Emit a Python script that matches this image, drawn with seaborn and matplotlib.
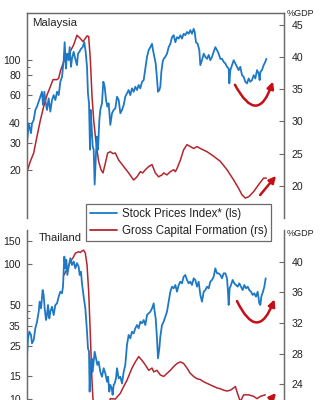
import matplotlib
matplotlib.use("Agg")
import matplotlib.pyplot as plt
import matplotlib.ticker as mticker
import seaborn as sns
import pandas as pd

# ---------------- data ----------------
my_stock_t = [1988.00, 1988.26, 1988.62, 1988.78, 1989.04, 1989.30, 1989.56, 1989.82, 1990.08, 1990.33,
              1990.49, 1990.70, 1990.85, 1991.11, 1991.37, 1991.63, 1991.89, 1992.15, 1992.41, 1992.67,
              1992.93, 1993.19, 1993.45, 1993.71, 1993.86, 1994.07, 1994.23, 1994.49, 1994.64, 1994.85,
              1995.00, 1995.26, 1995.52, 1995.78, 1995.94, 1996.15, 1996.40, 1996.66, 1996.92, 1997.13,
              1997.34, 1997.49, 1997.65, 1997.81, 1997.91, 1998.06, 1998.22, 1998.38, 1998.53, 1998.74,
              1998.89, 1999.05, 1999.26, 1999.41, 1999.67, 1999.88, 2000.09, 2000.30, 2000.50, 2000.71,
              2000.97, 2001.23, 2001.49, 2001.75, 2002.01, 2002.27, 2002.53, 2002.79, 2003.05, 2003.30,
              2003.56, 2003.82, 2004.08, 2004.34, 2004.60, 2004.86, 2005.12, 2005.38, 2005.64, 2005.90,
              2006.16, 2006.42, 2006.68, 2006.94, 2007.20, 2007.46, 2007.61, 2007.82, 2008.03, 2008.23,
              2008.39, 2008.60, 2008.75, 2008.91, 2009.12, 2009.27, 2009.53, 2009.79, 2010.05, 2010.31,
              2010.57, 2010.83, 2011.09, 2011.35, 2011.61, 2011.87, 2012.12, 2012.38, 2012.64, 2012.90,
              2013.16, 2013.42, 2013.68, 2013.94, 2014.10, 2014.30, 2014.56, 2014.82, 2014.98, 2015.24,
              2015.50, 2015.76, 2016.02, 2016.28, 2016.53, 2016.79, 2017.05, 2017.31, 2017.57, 2017.83,
              2018.09, 2018.35, 2018.61, 2018.87, 2019.13, 2019.39, 2019.49, 2019.65, 2019.91, 2020.17,
              2020.43, 2020.68, 2020.94, 2021.20, 2021.46, 2021.72, 2021.98, 2022.24, 2022.50, 2022.76,
              2023.02, 2023.28, 2023.54, 2023.80, 2024.06, 2024.21, 2024.32, 2024.57, 2024.83, 2025.09,
              2025.25]
my_stock_v = [29.8, 39.8, 34.5, 39.8, 41.8, 48.4, 50.8, 54.6, 58.7, 63.1,
              52.0, 63.1, 55.9, 48.4, 57.3, 47.2, 55.9, 60.1, 55.9, 63.1,
              60.1, 73.0, 78.5, 100, 130, 88.6, 110, 100, 121, 90.8,
              102, 113, 102, 93, 110, 113, 118, 121, 130, 113,
              90.8, 61.6, 53.3, 27.1, 48.4, 38.0, 28.4, 27.1, 16.3, 25.8,
              32.8, 27.1, 41.8, 48.4, 53.3, 73.0, 67.9, 55.9, 50.8, 53.3,
              38.9, 46.1, 48.4, 49.5, 58.7, 55.9, 46.1, 48.4, 52.0, 58.7,
              61.6, 64.7, 60.1, 66.3, 63.1, 67.9, 64.7, 69.6, 66.3, 73.0,
              74.8, 88.6, 105, 116, 121, 127, 116, 105, 95.3, 76.6,
              63.1, 64.7, 67.9, 84.4, 97.6, 102, 105, 110, 121, 127,
              140, 144, 130, 140, 137, 144, 137, 147, 144, 151,
              147, 155, 147, 158, 151, 130, 127, 116, 93, 100,
              110, 105, 102, 108, 100, 105, 113, 121, 116, 110,
              102, 102, 97.6, 95.3, 90.8, 88.6, 71.3, 86.5, 93, 100,
              95.3, 90.8, 86.5, 90.8, 80.4, 78.5, 73.0, 71.3, 76.6, 73.0,
              74.8, 80.4, 76.6, 86.5, 82.4, 74.8, 84.4, 86.5, 93, 97.6,
              102]

my_gcf_t = [1988.00, 1988.52, 1989.04, 1989.56, 1990.08, 1990.59, 1991.11, 1991.63, 1992.05, 1992.67,
            1992.93, 1993.19, 1993.71, 1994.23, 1994.74, 1995.26, 1995.78, 1996.30, 1996.72, 1997.08,
            1997.34, 1997.60, 1997.86, 1998.12, 1998.38, 1998.64, 1998.89, 1999.15, 1999.52, 1999.83,
            2000.19, 2000.56, 2000.97, 2001.39, 2001.75, 2002.27, 2003.05, 2003.82, 2004.60, 2005.12,
            2005.64, 2006.00, 2006.42, 2006.94, 2007.46, 2007.97, 2008.49, 2009.01, 2009.27, 2009.79,
            2010.31, 2010.83, 2011.09, 2011.35, 2011.87, 2012.38, 2012.90, 2013.42, 2013.94, 2014.46,
            2014.98, 2016.02, 2017.05, 2018.09, 2019.13, 2020.17, 2020.94, 2021.46, 2021.98, 2022.50,
            2023.28, 2024.06, 2024.83, 2025.25]
my_gcf_v = [22.2, 23.8, 25.1, 27.7, 30.2, 32.3, 34.1, 35.4, 36.5, 36.5,
            36.7, 37.8, 39.3, 40.1, 40.9, 41.9, 43.4, 42.9, 42.4, 42.9,
            43.3, 43.2, 39.6, 33.9, 30.2, 27.7, 25.6, 23.8, 22.5, 22.0,
            23.5, 25.1, 25.3, 25.0, 25.1, 24.0, 23.0, 22.0, 20.9, 21.4,
            22.2, 22.0, 22.5, 23.0, 23.3, 22.0, 21.4, 21.7, 22.0, 21.7,
            22.2, 22.5, 22.2, 22.7, 24.0, 25.6, 26.4, 26.1, 25.8, 26.1,
            25.8, 25.3, 24.6, 23.8, 22.5, 20.9, 19.6, 18.6, 18.1, 18.3,
            19.1, 20.2, 21.2, 21.2]

th_stock_t = [1988.00, 1988.16, 1988.36, 1988.62, 1988.78, 1989.04, 1989.30, 1989.56, 1989.82, 1989.97,
              1990.18, 1990.44, 1990.59, 1990.75, 1990.96, 1991.11, 1991.27, 1991.48, 1991.63, 1991.89,
              1992.15, 1992.41, 1992.67, 1992.93, 1993.19, 1993.45, 1993.60, 1993.71, 1993.81, 1993.97,
              1994.12, 1994.28, 1994.49, 1994.74, 1995.00, 1995.26, 1995.52, 1995.78, 1996.04, 1996.20,
              1996.40, 1996.56, 1996.82, 1997.08, 1997.34, 1997.49, 1997.65, 1997.75, 1997.86, 1998.06,
              1998.22, 1998.38, 1998.53, 1998.74, 1998.95, 1999.15, 1999.41, 1999.67, 1999.93, 2000.19,
              2000.45, 2000.61, 2000.81, 2000.97, 2001.18, 2001.33, 2001.49, 2001.64, 2001.85, 2002.01,
              2002.27, 2002.53, 2002.79, 2003.05, 2003.30, 2003.56, 2003.82, 2004.08, 2004.34, 2004.60,
              2004.86, 2005.12, 2005.38, 2005.64, 2005.90, 2006.16, 2006.42, 2006.68, 2006.94, 2007.20,
              2007.46, 2007.72, 2007.87, 2008.03, 2008.23, 2008.39, 2008.60, 2008.75, 2009.01, 2009.27,
              2009.53, 2009.79, 2010.05, 2010.31, 2010.57, 2010.83, 2011.09, 2011.35, 2011.61, 2011.87,
              2012.12, 2012.38, 2012.64, 2012.90, 2013.16, 2013.42, 2013.68, 2013.94, 2014.20, 2014.46,
              2014.72, 2014.98, 2015.24, 2015.50, 2015.76, 2016.02, 2016.28, 2016.53, 2016.79, 2017.05,
              2017.31, 2017.57, 2017.83, 2018.09, 2018.35, 2018.61, 2018.87, 2019.13, 2019.28, 2019.39,
              2019.54, 2019.75, 2020.01, 2020.27, 2020.53, 2020.79, 2021.05, 2021.31, 2021.57, 2021.83,
              2022.09, 2022.35, 2022.60, 2022.86, 2023.12, 2023.38, 2023.64, 2023.90, 2024.16, 2024.32,
              2024.47, 2024.73, 2024.94, 2025.15]
th_stock_v = [21.3, 28.3, 31.7, 30.0, 26.0, 27.5, 33.6, 37.6, 44.6, 52.9,
              47.2, 64.5, 59.3, 47.2, 38.7, 42.1, 50.0, 39.8, 44.6, 48.6,
              42.1, 50.0, 51.4, 57.6, 62.7, 61.0, 68.3, 88.2, 114, 93.4,
              108, 83.4, 96.1, 111, 98.9, 105, 93.4, 102, 96.1, 83.4,
              88.2, 72.3, 57.6, 47.2, 31.7, 23.9, 22.5, 11.4, 18.0, 20.1,
              16.0, 19.0, 22.5, 20.1, 18.0, 19.0, 16.0, 14.7, 17.0, 15.6,
              13.5, 14.7, 11.4, 12.8, 12.1, 10.8, 12.8, 13.1, 14.3, 17.0,
              14.3, 14.7, 13.1, 16.0, 18.0, 25.3, 30.0, 28.3, 31.7, 30.8,
              33.6, 35.5, 33.6, 37.6, 36.6, 38.7, 35.5, 42.1, 43.4, 44.6,
              47.2, 51.4, 44.6, 39.8, 28.3, 20.1, 23.9, 29.1, 35.5, 37.6,
              41.0, 44.6, 52.9, 62.7, 68.3, 66.4, 70.3, 62.7, 70.3, 74.4,
              72.3, 81.0, 83.4, 76.6, 72.3, 74.4, 70.3, 78.8, 76.6, 68.3,
              74.4, 59.3, 52.9, 62.7, 64.5, 68.3, 66.4, 74.4, 76.6, 81.0,
              93.4, 85.8, 85.8, 83.4, 78.8, 85.8, 85.8, 78.8, 62.7, 50.0,
              66.4, 70.3, 76.6, 72.3, 70.3, 68.3, 72.3, 68.3, 64.5, 70.3,
              66.4, 68.3, 64.5, 62.7, 59.3, 61.0, 57.6, 62.7, 51.4, 50.0,
              57.6, 62.7, 68.3, 78.8]

th_gcf_t = [1993.81, 1994.23, 1994.74, 1995.26, 1995.52, 1996.04, 1996.30, 1996.56, 1996.82, 1997.08,
            1997.34, 1997.60, 1997.86, 1998.12, 1998.38, 1999.41, 2000.45, 2000.97, 2001.75, 2002.53,
            2003.05, 2003.56, 2004.34, 2004.86, 2005.38, 2005.90, 2006.42, 2006.94, 2007.46, 2007.72,
            2008.23, 2008.75, 2009.27, 2009.79, 2010.31, 2010.83, 2011.35, 2011.87, 2012.38, 2012.90,
            2013.42, 2013.94, 2014.46, 2014.98, 2015.50, 2016.02, 2016.53, 2017.05, 2017.57, 2018.09,
            2018.61, 2019.13, 2019.65, 2020.17, 2020.43, 2020.68, 2021.20, 2021.72, 2022.50, 2023.28,
            2023.80, 2024.32, 2025.09]
th_gcf_v = [38.3, 39.1, 40.0, 40.65, 41.1, 41.3, 41.2, 41.4, 41.5, 41.1,
            39.6, 36.1, 30.4, 24.3, 20.4, 20.0, 20.5, 22.1, 22.05, 22.8,
            23.7, 24.5, 26.1, 26.9, 27.6, 27.1, 26.5, 25.8, 26.1, 25.6,
            25.8, 25.2, 25.0, 25.4, 25.8, 26.3, 26.7, 26.9, 26.7, 26.1,
            25.4, 25.0, 24.7, 24.6, 24.3, 24.1, 23.9, 23.7, 23.5, 23.4,
            23.2, 23.1, 23.2, 23.5, 23.7, 23.0, 21.7, 22.6, 22.6, 22.4,
            22.1, 22.4, 22.6]

my_left_ticks = [20, 30, 40, 60, 80, 100]
my_left_minor = [50, 70, 90]
my_right_ticks = [20, 25, 30, 35, 40, 45]
th_left_ticks = [10, 15, 25, 35, 50, 100, 150]
th_left_minor = [40, 45]
th_right_ticks = [24, 28, 32, 36, 40]

panel_titles = ["Malaysia", "Thailand"]
legend_labels = ["Stock Prices Index* (ls)", "Gross Capital Formation (rs)"]
unit_label = "%GDP"

# ---------------- style ----------------
sns.set_style("white")
plt.rcParams["font.family"] = ["Liberation Sans", "DejaVu Sans"]

BLUE = "#1f78c4"
RED = "#b3262e"
ARROW = "#c40f17"
SPINE = "#6b6b6b"
TXT = "#222222"

W, H = 324, 400
fig = plt.figure(figsize=(W / 100, H / 100), dpi=100)

def fx(px):
    return px / W

def fy(py):
    return 1 - py / H

ax1 = fig.add_axes([fx(27), fy(218), fx(257), 205.3 / H])
ax1r = ax1.twinx()
ax2 = fig.add_axes([fx(27), fy(420), fx(257), 190 / H])
ax2r = ax2.twinx()

df_my_s = pd.DataFrame({"t": my_stock_t, "v": my_stock_v})
df_my_g = pd.DataFrame({"t": my_gcf_t, "v": my_gcf_v})
df_th_s = pd.DataFrame({"t": th_stock_t, "v": th_stock_v})
df_th_g = pd.DataFrame({"t": th_gcf_t, "v": th_gcf_v})

sns.lineplot(data=df_my_s, x="t", y="v", ax=ax1, color=BLUE, lw=1.3, zorder=3)
sns.lineplot(data=df_my_g, x="t", y="v", ax=ax1r, color=RED, lw=1.1)
sns.lineplot(data=df_th_s, x="t", y="v", ax=ax2, color=BLUE, lw=1.3, zorder=3)
sns.lineplot(data=df_th_g, x="t", y="v", ax=ax2r, color=RED, lw=1.1)

# blue above red
for a, ar in ((ax1, ax1r), (ax2, ax2r)):
    a.set_zorder(ar.get_zorder() + 1)
    a.patch.set_visible(False)

XL = (1988, 2028)
for a in (ax1, ax1r, ax2, ax2r):
    a.set_xlim(*XL)
    a.set_xticks([])
    a.set_xlabel("")
    a.set_ylabel("")

ax1.set_yscale("log")
ax1.set_ylim(10, 200)
ax1r.set_ylim(15, 46.9)
ax2.set_yscale("log")
ax2.set_ylim(7.03, 179.6)
ax2r.set_ylim(19.31, 44.14)

def set_log_ticks(a, major, minor):
    a.yaxis.set_major_locator(mticker.FixedLocator(major))
    a.yaxis.set_major_formatter(mticker.FixedFormatter([str(m) for m in major]))
    a.yaxis.set_minor_locator(mticker.FixedLocator(minor))
    a.yaxis.set_minor_formatter(mticker.NullFormatter())

set_log_ticks(ax1, my_left_ticks, my_left_minor)
set_log_ticks(ax2, th_left_ticks, th_left_minor)
ax1r.set_yticks(my_right_ticks)
ax1r.set_yticklabels([str(t) for t in my_right_ticks])
ax2r.set_yticks(th_right_ticks)
ax2r.set_yticklabels([str(t) for t in th_right_ticks])

for a in (ax1, ax2):
    a.tick_params(axis="y", which="major", direction="in", length=3.5, width=0.8,
                  color=SPINE, labelsize=7.6, labelcolor=TXT, pad=4.5, left=True)
    a.tick_params(axis="y", which="minor", direction="in", length=2.2, width=0.7,
                  color=SPINE, left=True)
for a in (ax1r, ax2r):
    a.tick_params(axis="y", which="major", direction="in", length=3.5, width=0.8,
                  color=SPINE, labelsize=7.6, labelcolor=TXT, pad=5.5, right=True)

for a in (ax1, ax1r, ax2, ax2r):
    for s in a.spines.values():
        s.set_color(SPINE)
        s.set_linewidth(0.9)
    a.spines["bottom"].set_visible(False)
for a in (ax2, ax2r):
    a.spines["top"].set_visible(False)

# panel titles
ax1.text(0.019, 0.948, panel_titles[0], transform=ax1.transAxes, fontsize=8.2,
         color=TXT, ha="left", va="center")
ax2.text(0.0455, 0.959, panel_titles[1], transform=ax2.transAxes, fontsize=8.0,
         color=TXT, ha="left", va="center")

# unit labels
fig.text(fx(286.5), fy(13.5), unit_label, fontsize=6.5, color=TXT, ha="left", va="center")
fig.text(fx(286.5), fy(234), unit_label, fontsize=6.5, color=TXT, ha="left", va="center")

# arrows
arc_kw = dict(arrowstyle="-|>", connectionstyle="arc3,rad=1.15", color=ARROW,
              lw=1.8, mutation_scale=10, shrinkA=0, shrinkB=0)
line_kw = dict(arrowstyle="-|>", color=ARROW, lw=1.8, mutation_scale=10, shrinkA=0, shrinkB=0)
ax1.annotate("", xy=(0.957, 0.665), xytext=(0.809, 0.649), xycoords="axes fraction",
             arrowprops=arc_kw, annotation_clip=False)
ax1.annotate("", xy=(0.969, 0.205), xytext=(0.907, 0.112), xycoords="axes fraction",
             arrowprops=line_kw, annotation_clip=False)
ax2.annotate("", xy=(0.963, 0.635), xytext=(0.817, 0.626), xycoords="axes fraction",
             arrowprops=arc_kw, annotation_clip=False)
ax2.annotate("", xy=(0.969, 0.142), xytext=(0.903, 0.037), xycoords="axes fraction",
             arrowprops=line_kw, annotation_clip=False)

# legend
from matplotlib.lines import Line2D
handles = [Line2D([], [], color=BLUE, lw=1.3), Line2D([], [], color=RED, lw=1.3)]
leg = fig.legend(handles, legend_labels, loc="upper left",
                 bbox_to_anchor=(fx(86), fy(204)), bbox_transform=fig.transFigure,
                 fontsize=8.3, frameon=True, fancybox=False, framealpha=1,
                 edgecolor=SPINE, handlelength=2.3, handletextpad=0.45,
                 borderpad=0.35, labelspacing=0.4, borderaxespad=0)
leg.get_frame().set_linewidth(0.9)
for t in leg.get_texts():
    t.set_color(TXT)

fig.savefig("out.png", dpi=100)
